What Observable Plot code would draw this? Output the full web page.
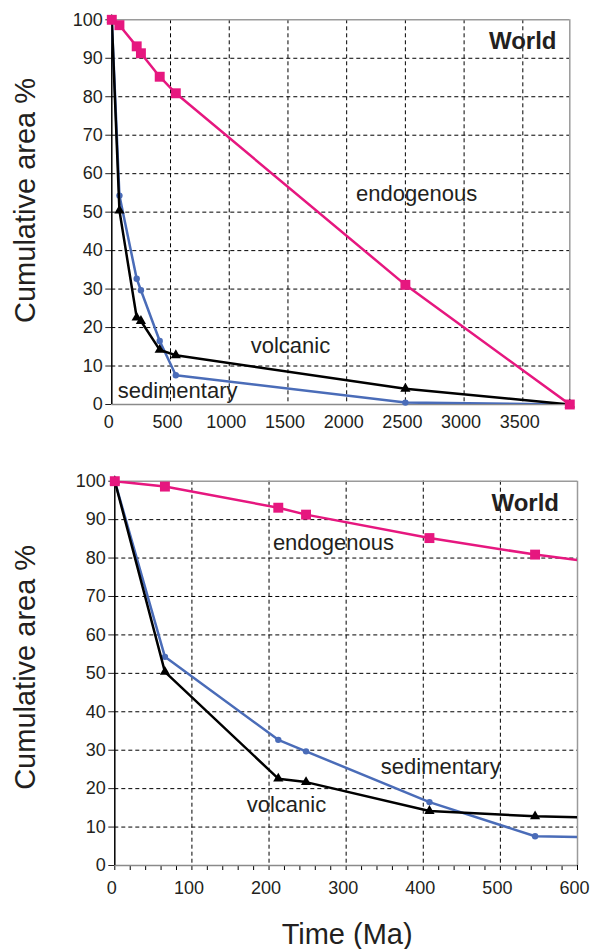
<!DOCTYPE html>
<html><head><meta charset="utf-8">
<script src="https://cdn.jsdelivr.net/npm/d3@7"></script>
<script src="https://cdn.jsdelivr.net/npm/@observablehq/plot@0.6"></script>
<style>
body{margin:0;background:#fff;}
#chart{width:590px;}
#chart svg{display:block;}
</style>
</head><body><div id="chart"></div>
<script>
// Ages (Ma) and cumulative area % per rock type
const years = [0, 65, 212, 248, 408, 545, 2500, 3900];
const endogenous = [100, 98.6, 93.1, 91.3, 85.2, 80.9, 31.1, 0];
const sedimentary = [100, 54.3, 32.7, 29.7, 16.5, 7.6, 0.5, 0];
const volcanic = [100, 50.4, 22.6, 21.7, 14.2, 12.8, 4.1, 0];

const topXTicks = [0, 500, 1000, 1500, 2000, 2500, 3000, 3500];
const bottomXTicks = [0, 100, 200, 300, 400, 500, 600];
const bottomMinorTicks = d3.range(0, 601, 20);
const yTicks = [0, 10, 20, 30, 40, 50, 60, 70, 80, 90, 100];

const yTitle = "Cumulative area %";
const xTitle = "Time (Ma)";
const panelTitle = "World";

// label anchors in data units
const topLabels = [
  {name: "endogenous", x: 2080, y: 53.0},
  {name: "volcanic", x: 1183, y: 13.3},
  {name: "sedimentary", x: 50, y: 1.6}
];
const bottomLabels = [
  {name: "endogenous", x: 205, y: 82.0},
  {name: "sedimentary", x: 345, y: 23.9},
  {name: "volcanic", x: 171, y: 13.9}
];

const colors = {endogenous: "#e6177f", sedimentary: "#4a6cb8", volcanic: "#000000"};
const symbols = {endogenous: "square", sedimentary: "circle", volcanic: "triangle"};
const radii = {endogenous: 5.6, sedimentary: 3.2, volcanic: 3.8};

const seriesValues = {sedimentary, volcanic, endogenous};
const series = Object.keys(seriesValues).map(name =>
  ({name, rows: years.map((x, i) => ({x, y: seriesValues[name][i]}))}));

const textColor = "#231f20";
const font = "'Liberation Sans', Arial, Helvetica, sans-serif";

function panel(opt) {
  const xmax = opt.xDomain[1];
  const marks = [
    Plot.ruleX(opt.xGrid, {stroke: "#000", strokeWidth: 1, strokeDasharray: "4,3"}),
    Plot.ruleY(yTicks.filter(d => d > 0 && d < 100), {stroke: "#000", strokeWidth: 1, strokeDasharray: "4,3"}),
    Plot.ruleY([100], {stroke: "#9a9a9a", strokeWidth: 1.5}),
    Plot.ruleX([xmax], {stroke: "#9a9a9a", strokeWidth: 1.5}),
    Plot.axisX({ticks: opt.xLabelTicks, tickFormat: d => String(d), tickSize: 0, tickPadding: opt.xLabelPadding, label: null, fontSize: 18, color: textColor, dx: -3})
  ];
  if (opt.xMarkTicks) {
    marks.push(Plot.axisX({ticks: opt.xMarkTicks, tickFormat: () => "", tickSize: 5, label: null, color: "#000"}));
  }
  marks.push(
    Plot.axisY({ticks: yTicks, tickSize: 6, tickPadding: 3, label: null, fontSize: 18, color: textColor}),
    Plot.ruleY([0], {stroke: "#8a8a8a", strokeWidth: 1.5}),
    Plot.ruleX([0], {stroke: "#000", strokeWidth: 1.5})
  );
  for (const s of series) {
    marks.push(Plot.line(s.rows, {x: "x", y: "y", stroke: colors[s.name], strokeWidth: 2.5, clip: true}));
    marks.push(Plot.dot(s.rows, {x: "x", y: "y", filter: d => d.x <= xmax, symbol: symbols[s.name], r: radii[s.name], fill: colors[s.name], stroke: "none"}));
  }
  marks.push(Plot.text(opt.labels, {x: "x", y: "y", text: "name", textAnchor: "start", lineAnchor: "bottom", fontSize: 22, fill: textColor}));
  marks.push(Plot.text([panelTitle], {text: d => d, x: opt.titlePos.x, y: opt.titlePos.y, textAnchor: "end", lineAnchor: "bottom", fontSize: 24, fontWeight: "bold", fill: textColor}));
  marks.push(Plot.text([yTitle], {text: d => d, frameAnchor: "left", textAnchor: "middle", lineAnchor: "middle", rotate: -90, dx: opt.yTitleDx, dy: opt.yTitleDy, fontSize: 29, fill: textColor}));
  if (opt.showXTitle) {
    marks.push(Plot.text([xTitle], {text: d => d, frameAnchor: "bottom", textAnchor: "middle", dx: 1, dy: 78, lineAnchor: "bottom", fontSize: 29, fill: textColor}));
  }
  return Plot.plot({
    width: 590, height: opt.height,
    marginLeft: opt.marginLeft, marginRight: opt.marginRight, marginTop: opt.marginTop, marginBottom: opt.marginBottom,
    style: {fontFamily: font, fontSize: "18px", color: textColor, background: "#fff", overflow: "visible"},
    x: {domain: opt.xDomain},
    y: {domain: [0, 100]},
    marks
  });
}

const topPanel = panel({
  height: 440, marginLeft: 111.3, marginRight: 20.7, marginTop: 19.3, marginBottom: 36,
  xDomain: [0, 3900], xGrid: topXTicks.filter(d => d > 0), xLabelTicks: topXTicks, xLabelPadding: 11,
  xMarkTicks: null,
  labels: topLabels, titlePos: {x: 3787, y: 92.5},
  yTitleDx: -86.3, yTitleDy: -11.7, showXTitle: false
});

const bottomPanel = panel({
  height: 509, marginLeft: 114.3, marginRight: 13, marginTop: 40.7, marginBottom: 84,
  xDomain: [0, 600], xGrid: bottomXTicks.filter(d => d > 0 && d < 600), xLabelTicks: bottomXTicks, xLabelPadding: 16,
  xMarkTicks: bottomMinorTicks,
  labels: bottomLabels, titlePos: {x: 576, y: 92.2},
  yTitleDx: -89.3, yTitleDy: -6, showXTitle: true
});

const root = document.getElementById("chart");
root.appendChild(topPanel);
root.appendChild(bottomPanel);
</script></body></html>
